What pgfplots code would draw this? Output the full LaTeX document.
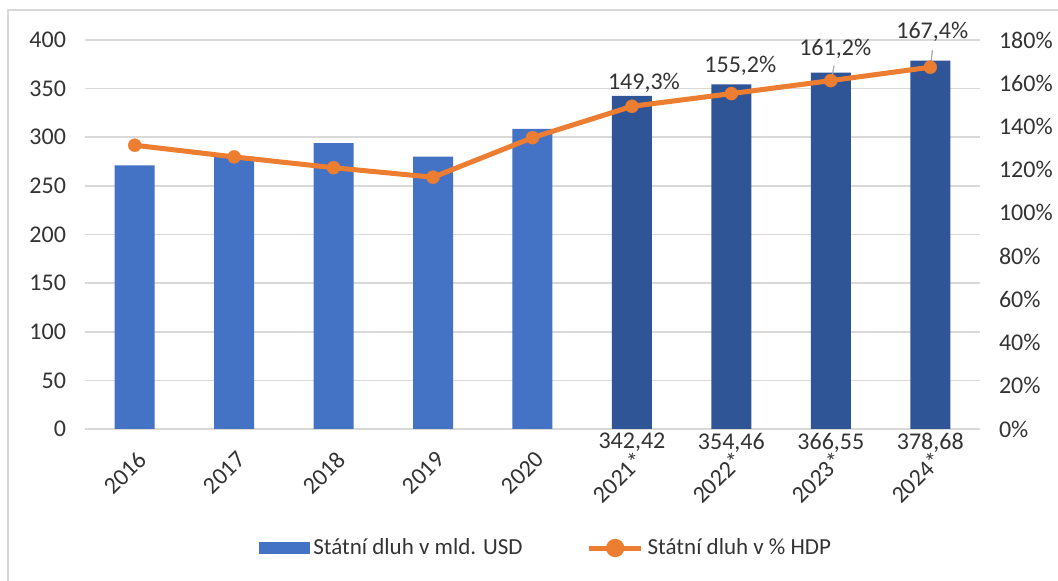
\documentclass[border=0pt]{standalone}
\usepackage{fontspec}
\setmainfont{Carlito}
\usepackage{pgfplots}
\pgfplotsset{compat=1.18}
\definecolor{barlight}{HTML}{4472C4}
\definecolor{bardark}{HTML}{2F5597}
\definecolor{lineorange}{HTML}{ED7D31}
\definecolor{gridgray}{HTML}{D9D9D9}
\definecolor{txt}{HTML}{333333}

\pgfplotsset{
  base/.style={
    at={(42.5pt,76pt)}, anchor=south west,
    scale only axis, width=447.5pt, height=194.5pt,
    xmin=-0.5, xmax=8.5, ymin=0,
    axis line style={draw=none},
    major tick length=0pt,
    tick label style={font=\fontsize{12}{14}\selectfont, text=txt},
    /pgf/number format/assume math mode=true,
  },
}
\tikzset{pctlabel/.style={font=\fontsize{12}{14}\selectfont, text=txt, inner sep=0pt}}

\begin{document}
\begin{tikzpicture}
% left axis: debt in bn USD
\begin{axis}[base,
    ymax=400, ytick={0,50,...,400},
    ymajorgrids, grid style={gridgray, line width=0.8pt},
    xtick={0,...,8},
    xticklabels={2016,2017,2018,2019,2020,2021*,2022*,2023*,2024*},
    xticklabel style={xshift=0.9pt, yshift=-10.2pt, rotate=45, anchor=north east, inner sep=0pt},
    yticklabel style={xshift=-6pt},
]
\addplot[ybar, bar width=20pt, bar shift=0pt, fill=barlight, draw=none]
  coordinates {(0,271) (1,280) (2,294) (3,280) (4,308.6)};
\addplot[ybar, bar width=20pt, bar shift=0pt, fill=bardark, draw=none]
  coordinates {(5,342.42) (6,354.46) (7,366.55) (8,378.68)};
% value labels under the forecast bars
\addplot[only marks, mark=*, mark size=0pt, mark options={draw=none, fill=none},
    point meta=explicit, nodes near coords,
    every node near coord/.append style={anchor=north, inner sep=0pt, yshift=-2pt,
      font=\fontsize{12}{14}\selectfont, text=txt,
      /pgf/number format/.cd, fixed, fixed zerofill, precision=2, use comma}]
  table[meta=v] {
x y v
5 0 342.42
6 0 354.46
7 0 366.55
8 0 378.68
};
\end{axis}

% right axis: debt in % of GDP
\begin{axis}[base, clip=false,
    ymax=180, ytick={0,20,...,180},
    axis y line*=right, axis x line=none,
    yticklabel={\pgfmathprintnumber{\tick}\%},
    yticklabel style={xshift=6pt},
    xtick=\empty,
    legend columns=2,
    legend style={draw=none, fill=none, at={(0.516,-0.306)}, anchor=center,
      font=\fontsize{11.5}{13}\selectfont, text=txt,
      /tikz/every even column/.append style={column sep=30pt}},
]
\addlegendimage{legend image code/.code={\fill[barlight] (0pt,-2.8pt) rectangle (25pt,2.8pt);}}
\addlegendentry{Státní dluh v mld. USD}
\addplot[lineorange, line width=2.5pt, mark=*, mark size=3.3pt,
    mark options={fill=lineorange, draw=lineorange, line width=0.1pt},
    legend image code/.code={
      \draw[lineorange, line width=2.5pt] (0pt,0pt) -- (26pt,0pt);
      \fill[lineorange] (13pt,0pt) circle (3.3pt);}]
  coordinates {(0,131.3) (1,125.9) (2,120.9) (3,116.5) (4,134.8)
               (5,149.3) (6,155.2) (7,161.2) (8,167.4)};
\addlegendentry{Státní dluh v \% HDP}
\node[pctlabel, xshift=6pt, yshift=11.8pt] at (axis cs:5,149.3) {149,3\%};
\node[pctlabel, xshift=4.5pt, yshift=14pt] at (axis cs:6,155.2) {155,2\%};
\node[pctlabel, xshift=2.2pt, yshift=15.8pt] at (axis cs:7,161.2) {161,2\%};
\node[pctlabel, xshift=1pt, yshift=17.6pt] at (axis cs:8,167.4) {167,4\%};
\draw[gray!70, line width=0.6pt] ([xshift=0.6pt,yshift=2pt]axis cs:7,161.2) -- ([xshift=1.6pt,yshift=7.5pt]axis cs:7,161.2);
\draw[gray!70, line width=0.6pt] ([xshift=0.3pt,yshift=2pt]axis cs:8,167.4) -- ([xshift=1.1pt,yshift=8.5pt]axis cs:8,167.4);
\end{axis}

% chart area frame (top and left edges visible)
\draw[gridgray, line width=0.8pt] (4pt,0pt) -- (4pt,285.5pt) -- (529pt,285.5pt);
\pgfresetboundingbox
\path[use as bounding box] (0pt,0pt) rectangle (529pt,290.5pt);
\end{tikzpicture}
\end{document}
